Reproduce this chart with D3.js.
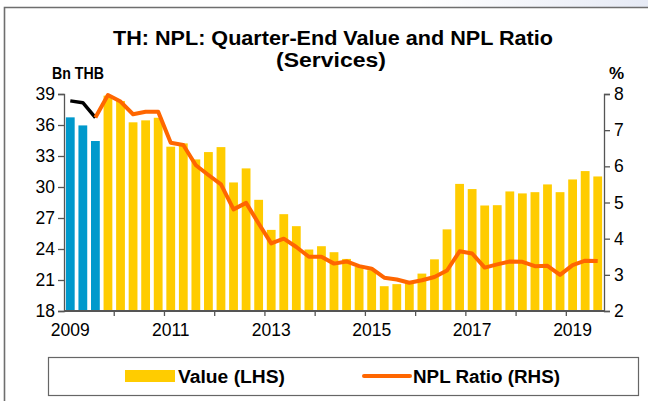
<!DOCTYPE html>
<html>
<head>
<meta charset="utf-8">
<script src="https://cdn.jsdelivr.net/npm/d3@7"></script>
<style>
  html, body { margin: 0; padding: 0; background: #fff; }
  svg { display: block; font-family: Arial, "Liberation Sans", sans-serif; }
</style>
</head>
<body>
<div id="chart"></div>
<script>
// quarters 2009Q1 .. 2019Q3
const years = d3.range(2009, 2020);
const quarters = [];
years.forEach(y => [1, 2, 3, 4].forEach(q => quarters.push(y + 'Q' + q)));
quarters.length = 43;

// NPL value, Bn THB (first three quarters are the old series, drawn blue)
const values = [
  36.74, 35.96, 34.45, 38.84, 38.32, 36.26, 36.45, 36.7, 33.9, 34.22,
  32.67, 33.38, 33.86, 30.44, 31.8, 28.76, 25.85, 27.37, 26.21, 23.95,
  24.27, 23.69, 23.04, 22.27, 21.95, 20.4, 20.6, 20.75, 21.62, 23.0,
  25.9, 30.3, 29.8, 28.21, 28.24, 29.57, 29.38, 29.5, 30.25, 29.5,
  30.73, 31.54, 31.02
];
const oldSeriesCount = 3;

// NPL ratio, %
const ratio = [
  7.81, 7.76, 7.35, 7.97, 7.79, 7.44, 7.51, 7.51, 6.65, 6.59,
  6.03, 5.76, 5.5, 4.81, 4.99, 4.42, 3.87, 4.0, 3.77, 3.5,
  3.5, 3.31, 3.37, 3.24, 3.17, 2.92, 2.87, 2.78, 2.85, 2.94,
  3.12, 3.65, 3.59, 3.2, 3.29, 3.37, 3.36, 3.24, 3.25, 3.0,
  3.27, 3.39, 3.38
];

const leftTicks = [18, 21, 24, 27, 30, 33, 36, 39];
const rightTicks = [2, 3, 4, 5, 6, 7, 8];
const yearLabels = [2009, 2011, 2013, 2015, 2017, 2019];

const width = 648, height = 401;
const plot = { left: 64, right: 604, top: 94, bottom: 311 };

const svg = d3.select('#chart').append('svg')
  .attr('width', width).attr('height', height);

// faint shading strip in the top right corner
const grad = svg.append('defs').append('linearGradient')
  .attr('id', 'topfade').attr('x1', 0).attr('x2', 1).attr('y1', 0).attr('y2', 0);
grad.append('stop').attr('offset', '0%').attr('stop-color', '#fff');
grad.append('stop').attr('offset', '100%').attr('stop-color', '#e6eaf5');
svg.append('rect').attr('x', 420).attr('y', 0).attr('width', 228).attr('height', 7)
  .attr('fill', 'url(#topfade)');

// outer frame (left and top only visible)
svg.append('path')
  .attr('d', `M4.5,${height} V7.5 H${width}`)
  .attr('fill', 'none').attr('stroke', '#6e6e6e').attr('stroke-width', 1.6);

const x = d3.scaleBand().domain(quarters)
  .range([plot.left, plot.right]).paddingInner(0.3).paddingOuter(0.15);
const yL = d3.scaleLinear().domain([18, 39]).range([plot.bottom, plot.top]);
const yR = d3.scaleLinear().domain([2, 8]).range([plot.bottom, plot.top]);

// bars
svg.append('g').selectAll('rect')
  .data(values)
  .join('rect')
  .attr('x', (d, i) => x(quarters[i]))
  .attr('y', d => yL(d))
  .attr('width', x.bandwidth())
  .attr('height', d => yL(18) - yL(d))
  .attr('fill', (d, i) => i < oldSeriesCount ? '#0099cc' : '#ffcc00');

// axes
const leftAxis = svg.append('g')
  .attr('transform', `translate(${plot.left},0)`)
  .call(d3.axisLeft(yL).tickValues(leftTicks).tickFormat(d3.format('d')).tickSize(6).tickPadding(3));
const rightAxis = svg.append('g')
  .attr('transform', `translate(${plot.right},0)`)
  .call(d3.axisRight(yR).tickValues(rightTicks).tickFormat(d3.format('d')).tickSize(6).tickPadding(4));
[leftAxis, rightAxis].forEach(g => {
  g.select('.domain').attr('stroke', '#555').attr('stroke-width', 1.3);
  g.selectAll('.tick line').attr('stroke', '#555').attr('stroke-width', 1.3);
  g.selectAll('.tick text').attr('font-size', 17.5).attr('fill', '#000')
    .attr('font-family', 'Arial, "Liberation Sans", sans-serif');
});

// x axis: baseline, year ticks at year boundaries, labels under Q1
const step = x.step();
const xAxis = svg.append('g');
xAxis.append('line')
  .attr('x1', plot.left).attr('x2', plot.right)
  .attr('y1', plot.bottom).attr('y2', plot.bottom)
  .attr('stroke', '#555').attr('stroke-width', 2);
xAxis.selectAll('line.tick')
  .data(years.slice(1))
  .join('line')
  .attr('class', 'tick')
  .attr('x1', d => x(d + 'Q1') - step * x.paddingInner() / 2)
  .attr('x2', d => x(d + 'Q1') - step * x.paddingInner() / 2)
  .attr('y1', plot.bottom).attr('y2', plot.bottom + 5)
  .attr('stroke', '#555').attr('stroke-width', 1.3);
xAxis.selectAll('text')
  .data(yearLabels)
  .join('text')
  .attr('x', d => x(d + 'Q1') + x.bandwidth() / 2)
  .attr('y', plot.bottom + 25)
  .attr('text-anchor', 'middle')
  .attr('font-size', 17.5)
  .text(d => d);

// ratio lines: black for the old series, orange afterwards
const line = d3.line()
  .x(d => x(d.q) + x.bandwidth() / 2)
  .y(d => yR(d.v));
const pts = ratio.map((v, i) => ({ q: quarters[i], v }));
svg.append('path')
  .attr('d', line(pts.slice(0, oldSeriesCount)))
  .attr('fill', 'none').attr('stroke', '#000').attr('stroke-width', 3.5)
  .attr('stroke-linejoin', 'round');
svg.append('path')
  .attr('d', line(pts.slice(oldSeriesCount - 1)))
  .attr('fill', 'none').attr('stroke', '#ff6600').attr('stroke-width', 4)
  .attr('stroke-linejoin', 'round');

// titles
svg.append('text').attr('x', 333).attr('y', 45)
  .attr('text-anchor', 'middle').attr('font-size', 20).attr('font-weight', 'bold')
  .attr('textLength', 440).attr('lengthAdjust', 'spacingAndGlyphs')
  .text('TH: NPL: Quarter-End Value and NPL Ratio');
svg.append('text').attr('x', 331).attr('y', 67)
  .attr('text-anchor', 'middle').attr('font-size', 20).attr('font-weight', 'bold')
  .attr('textLength', 110).attr('lengthAdjust', 'spacingAndGlyphs')
  .text('(Services)');
svg.append('text').attr('x', 52).attr('y', 79)
  .attr('font-size', 17).attr('font-weight', 'bold')
  .attr('textLength', 52).attr('lengthAdjust', 'spacingAndGlyphs')
  .text('Bn THB');
svg.append('text').attr('x', 609).attr('y', 79)
  .attr('font-size', 17).attr('font-weight', 'bold').text('%');

// legend
const legend = svg.append('g');
legend.append('rect')
  .attr('x', 48.5).attr('y', 357.5).attr('width', 590).attr('height', 38)
  .attr('fill', '#fff').attr('stroke', '#666').attr('stroke-width', 1.2);
legend.append('rect')
  .attr('x', 125).attr('y', 370).attr('width', 50).attr('height', 12)
  .attr('fill', '#ffcc00');
legend.append('text').attr('x', 178).attr('y', 383)
  .attr('font-size', 18).attr('font-weight', 'bold')
  .attr('textLength', 107).attr('lengthAdjust', 'spacingAndGlyphs')
  .text('Value (LHS)');
legend.append('line')
  .attr('x1', 364).attr('x2', 410).attr('y1', 376).attr('y2', 376)
  .attr('stroke', '#ff6600').attr('stroke-width', 4).attr('stroke-linecap', 'round');
legend.append('text').attr('x', 413).attr('y', 383)
  .attr('font-size', 18).attr('font-weight', 'bold')
  .attr('textLength', 147).attr('lengthAdjust', 'spacingAndGlyphs')
  .text('NPL Ratio (RHS)');
</script>
</body>
</html>
